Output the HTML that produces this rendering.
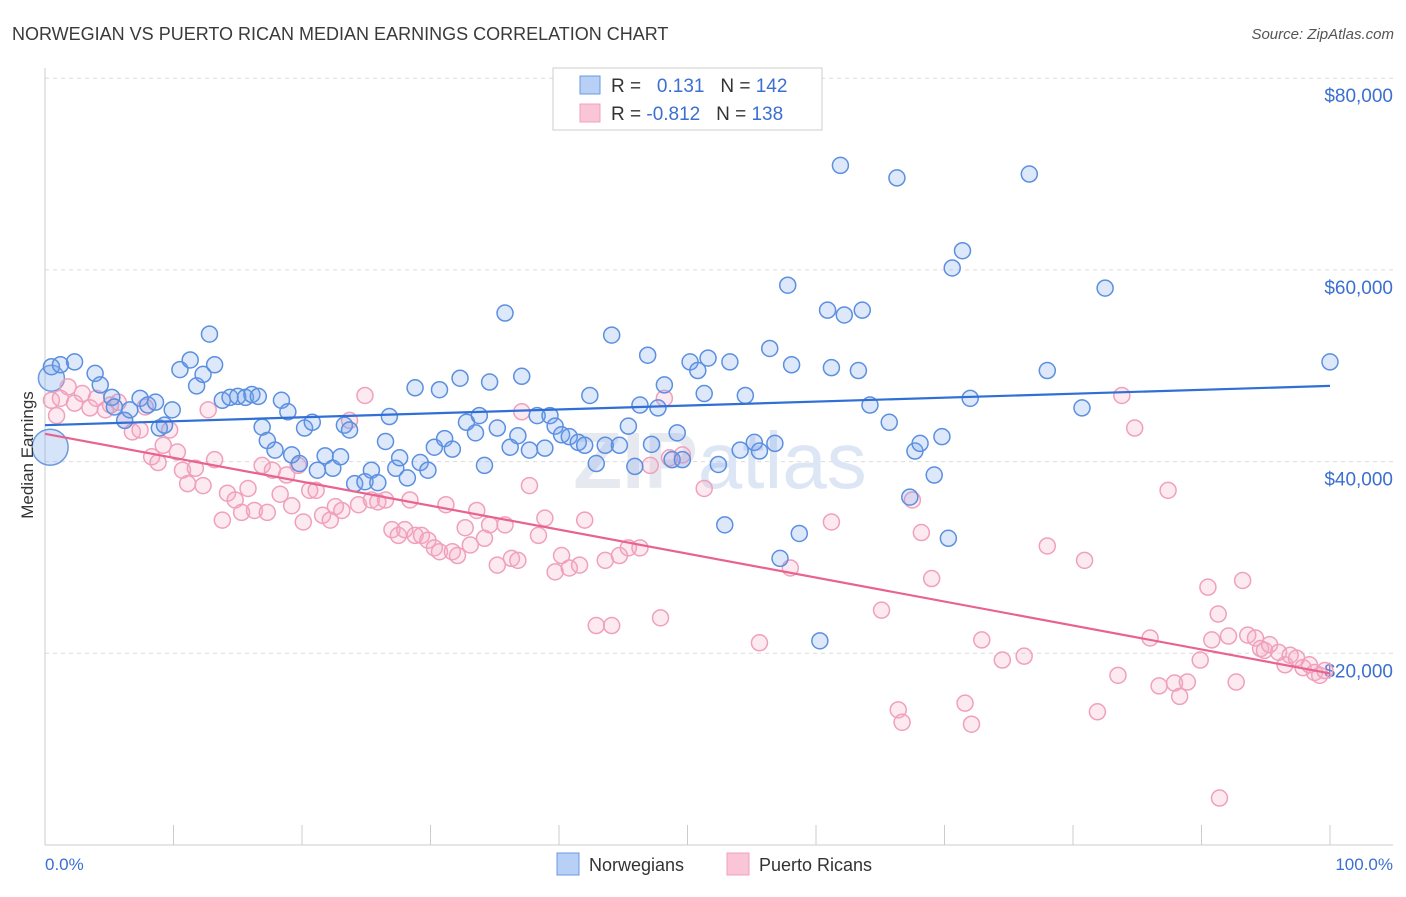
<!DOCTYPE html>
<html><head><meta charset="utf-8"><style>
body{margin:0;background:#fff;font-family:"Liberation Sans",sans-serif}
svg text{font-family:"Liberation Sans",sans-serif}
</style></head><body>
<svg id="chart" width="1406" height="892" xmlns="http://www.w3.org/2000/svg">
<text x="12" y="40" font-size="18" fill="#3a3a3a">NORWEGIAN VS PUERTO RICAN MEDIAN EARNINGS CORRELATION CHART</text>
<text x="1394" y="39" font-size="15" fill="#555" text-anchor="end" font-style="italic">Source: ZipAtlas.com</text>
<g id="grid"></g>
<text x="720" y="488" font-size="80" fill="#e6e9ef" text-anchor="middle" font-weight="bold">ZIP<tspan fill="#dde6f5" font-weight="normal">atlas</tspan></text>
<g id="axes"></g>
<g id="pts"></g>
<g id="trends"></g>
<text transform="translate(33,455) rotate(-90)" font-size="17" fill="#333" text-anchor="middle">Median Earnings</text>
<text x="45" y="870" font-size="17" fill="#3b6fd0">0.0%</text>
<text x="1393" y="870" font-size="17" fill="#3b6fd0" text-anchor="end">100.0%</text>
<g>
<rect x="553" y="68" width="269" height="62" fill="#fff" stroke="#ccc"/>
<rect x="580" y="76" width="20" height="18" fill="#b8d0f5" stroke="#6a9ae0"/>
<rect x="580" y="104" width="20" height="18" fill="#fac5d6" stroke="#f0a0bc"/>
<text x="611" y="92" font-size="19" fill="#333">R = <tspan fill="#3b6fd0">&#160;&#160;0.131</tspan>&#160;&#160;&#160;N = <tspan fill="#3b6fd0">142</tspan></text>
<text x="611" y="120" font-size="19" fill="#333">R = <tspan fill="#3b6fd0">-0.812</tspan>&#160;&#160;&#160;N = <tspan fill="#3b6fd0">138</tspan></text>
</g>
<g>
<rect x="557" y="853" width="22" height="22" fill="#b8d0f5" stroke="#6a9ae0"/>
<text x="589" y="871" font-size="18" fill="#333">Norwegians</text>
<rect x="727" y="853" width="22" height="22" fill="#fac5d6" stroke="#f0a0bc"/>
<text x="759" y="871" font-size="18" fill="#333">Puerto Ricans</text>
</g>
</svg>
<script>
const yTicks=[20000,40000,60000,80000];
const yTickLabels=["$20,000","$40,000","$60,000","$80,000"];
const xTicks=[0,10,20,30,40,50,60,70,80,90,100];
const blueX=[0.5,1.2,2.3,3.9,4.3,5.2,5.4,6.2,6.6,7.4,8.0,8.6,8.9,9.3,9.9,10.5,11.3,11.8,12.3,12.8,13.2,13.8,14.4,15.0,15.6,16.1,16.6,16.9,17.3,17.9,18.4,18.9,19.2,19.8,20.2,20.8,21.2,21.8,22.4,23.0,23.3,23.7,24.1,24.9,25.4,25.9,26.5,26.8,27.3,27.6,28.2,28.8,29.2,29.8,30.3,30.7,31.1,31.7,32.3,32.8,33.5,33.8,34.2,34.6,35.2,35.8,36.2,36.8,37.1,37.7,38.3,38.9,39.3,39.7,40.2,40.8,41.5,42.0,42.4,42.9,43.6,44.1,44.7,45.4,45.9,46.3,46.9,47.2,47.7,48.2,48.8,49.2,49.6,50.2,50.8,51.3,51.6,52.4,52.9,53.3,54.1,54.5,55.2,55.6,56.4,56.8,57.2,57.8,58.1,58.7,60.3,60.9,61.2,61.9,62.2,63.3,63.6,64.2,65.7,66.3,67.3,67.7,68.1,69.2,69.8,70.3,70.6,71.4,72.0,76.6,78.0,80.7,82.5,100];
const blueY=[49.9,50.1,50.4,49.2,48.0,46.7,45.7,44.3,45.4,46.6,45.9,46.2,43.5,43.8,45.4,49.6,50.6,47.9,49.1,53.3,50.1,46.4,46.7,46.8,46.7,47.0,46.8,43.6,42.2,41.2,46.4,45.2,40.7,39.8,43.5,44.1,39.1,40.6,39.3,40.5,43.8,43.3,37.7,37.9,39.1,37.8,42.1,44.7,39.3,40.4,38.3,47.7,39.9,39.1,41.5,47.5,42.4,41.3,48.7,44.1,43.0,44.8,39.6,48.3,43.5,55.5,41.5,42.7,48.9,41.2,44.8,41.4,44.8,43.7,42.8,42.6,42.0,41.7,46.9,39.8,41.7,53.2,41.7,43.7,39.5,45.9,51.1,41.8,45.6,48.0,40.2,43.0,40.2,50.4,49.5,47.1,50.8,39.7,33.4,50.4,41.2,46.9,42.0,41.1,51.8,41.9,29.9,58.4,50.1,32.5,21.3,55.8,49.8,70.9,55.3,49.5,55.8,45.9,44.1,69.6,36.3,41.1,41.9,38.6,42.6,32.0,60.2,62.0,46.6,70.0,49.5,45.6,58.1,50.4];
const blueBigX=[0.4,0.5];
const blueBigY=[41.5,48.7];
const pinkX=[0.5,0.9,1.2,1.8,2.3,2.9,3.5,4.0,4.7,5.1,5.7,6.2,6.8,7.4,7.8,8.3,8.8,9.2,9.7,10.3,10.7,11.1,11.7,12.3,12.7,13.2,13.8,14.2,14.8,15.3,15.8,16.3,16.9,17.3,17.7,18.3,18.8,19.2,19.7,20.1,20.6,21.1,21.6,22.2,22.6,23.1,23.7,24.4,24.9,25.4,25.9,26.5,27.0,27.5,28.0,28.4,28.8,29.3,29.8,30.3,30.7,31.2,31.7,32.1,32.7,33.1,33.6,34.2,34.6,35.2,35.8,36.3,36.8,37.1,37.7,38.4,38.9,39.7,40.2,40.8,41.6,42.0,42.9,43.6,44.1,44.7,45.4,46.3,47.1,47.9,48.2,48.6,49.6,51.3,55.6,58.0,61.2,65.1,66.4,66.7,67.5,68.2,69.0,71.6,72.1,72.9,74.5,76.2,78.0,80.9,81.9,83.5,83.8,84.8,86.0,86.7,87.4,87.9,88.3,88.9,89.9,90.5,90.8,91.3,91.4,92.1,92.7,93.2,93.6,94.2,94.6,94.9,95.3,96.0,96.5,96.9,97.4,97.9,98.4,98.8,99.2,99.6];
const pinkY=[46.4,44.8,46.6,47.8,46.1,47.1,45.6,46.6,45.4,45.9,46.2,44.3,43.1,43.3,45.7,40.5,39.9,41.7,43.3,41.0,39.1,37.7,39.3,37.5,45.4,40.2,33.9,36.7,36.0,34.7,37.2,34.9,39.6,34.7,39.1,36.6,38.6,35.4,39.6,33.7,37.0,37.0,34.4,33.9,35.3,34.9,44.3,35.5,46.9,36.0,35.8,36.0,32.9,32.3,32.9,36.0,32.3,32.3,31.8,31.0,30.6,35.5,30.6,30.2,33.1,31.3,34.9,32.0,33.4,29.2,33.4,29.9,29.7,45.2,37.5,32.3,34.1,28.5,30.2,28.9,29.2,33.9,22.9,29.7,22.9,30.2,31.0,31.0,39.6,23.7,46.6,40.4,40.7,37.2,21.1,28.9,33.7,24.5,14.1,12.8,36.0,32.6,27.8,14.8,12.6,21.4,19.3,19.7,31.2,29.7,13.9,17.7,46.9,43.5,21.6,16.6,37.0,16.9,15.5,17.0,19.3,26.9,21.4,24.1,4.9,21.8,17.0,27.6,21.9,21.6,20.5,20.3,20.9,20.1,18.8,19.8,19.5,18.5,18.8,18.0,17.7,18.2];
const blueTrend=[43.8,47.9];
const pinkTrend=[42.9,17.9];

const NS="http://www.w3.org/2000/svg";
const X0=45,X1=1330,Y0=845,PPK=9.585;
const xs=p=>X0+(X1-X0)*p/100;
const ys=v=>Y0-v*PPK;
const ysD=v=>Y0-v/1000*PPK;
function mk(t,a,parent){const e=document.createElementNS(NS,t);for(const k in a)e.setAttribute(k,a[k]);document.getElementById(parent).appendChild(e);return e;}
yTicks.forEach((v,i)=>{
 const l=mk('line',{x1:X0,x2:1393,y1:ysD(v),y2:ysD(v),stroke:'#dcdcdc','stroke-dasharray':'4,4'},'grid');
 
 
 const t=mk('text',{x:1393,y:ysD(v)+24,'font-size':19,fill:'#3b6fd0','text-anchor':'end'},'grid');
 t.textContent=yTickLabels[i];
 
 
});
const ax=mk('line',{x1:X0,x2:1393,y1:Y0,y2:Y0,stroke:'#ccc'},'axes');


const ay=mk('line',{x1:X0,x2:X0,y1:68,y2:Y0,stroke:'#ccc'},'axes');


xTicks.forEach(p=>{
 const t=mk('line',{x1:xs(p),x2:xs(p),y1:Y0,y2:Y0-20,stroke:'#ccc'},'axes');
 
 
});
function pts(X,Y,r,fill,stroke,name){
 X.forEach((x,i)=>{
  const c=mk('circle',{cx:xs(x),cy:ys(Y[i]),r:r,fill:fill,stroke:stroke,'stroke-width':1.5},'pts');
  
  
 });
}
pts(blueBigX.slice(0,1),blueBigY.slice(0,1),18,'rgba(120,165,235,0.3)','#6a9ae0','norwegian-point');
pts(blueBigX.slice(1),blueBigY.slice(1),13,'rgba(120,165,235,0.3)','#6a9ae0','norwegian-point');
pts(pinkX,pinkY,8,'rgba(245,170,195,0.25)','#f0a0bc','puerto-rican-point');
pts(blueX,blueY,8,'rgba(120,165,235,0.25)','#5b8fe0','norwegian-point');
const bt=mk('line',{x1:xs(0),x2:xs(100),y1:ys(blueTrend[0]),y2:ys(blueTrend[1]),stroke:'#2f6fd6','stroke-width':2.2},'trends');


const pt=mk('line',{x1:xs(0),x2:xs(100),y1:ys(pinkTrend[0]),y2:ys(pinkTrend[1]),stroke:'#e8638f','stroke-width':2.2},'trends');


</script>
</body></html>
